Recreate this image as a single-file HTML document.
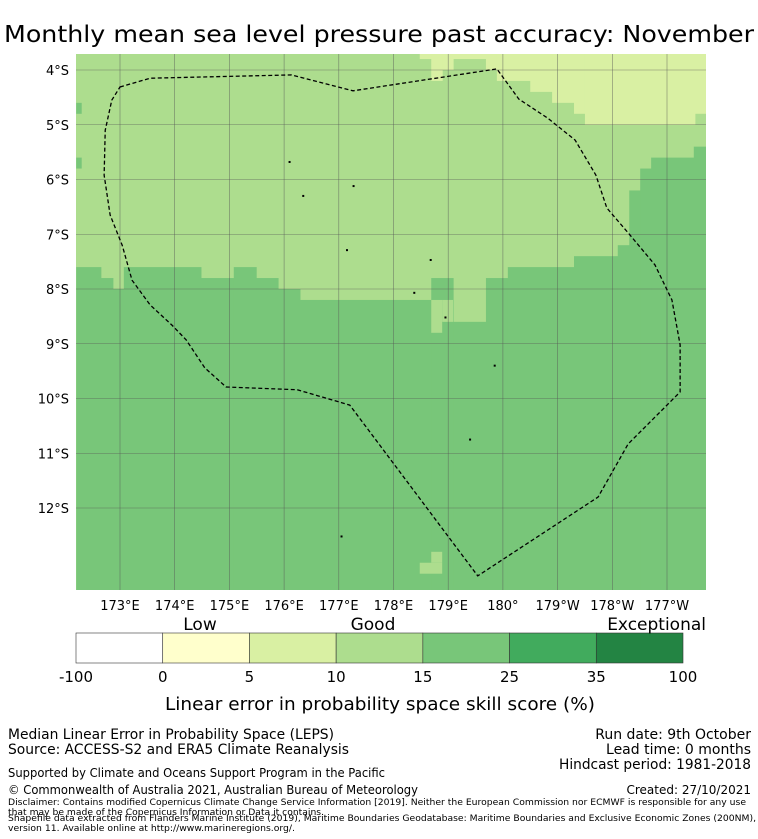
<!DOCTYPE html>
<html><head><meta charset="utf-8"><style>
html,body{margin:0;padding:0;background:#fff;}
svg{display:block;font-family:"DejaVu Sans","Liberation Sans",sans-serif;}
</style></head><body>
<svg id="chart" width="758" height="839" viewBox="0 0 758 839" xmlns="http://www.w3.org/2000/svg">
<text x="379" y="42" text-anchor="middle" font-size="23" textLength="750" lengthAdjust="spacingAndGlyphs">Monthly mean sea level pressure past accuracy: November</text>
<defs><clipPath id="mapclip"><rect x="76" y="54" width="630" height="536"/></clipPath></defs>
<g id="map" clip-path="url(#mapclip)"></g>
<g id="axes"></g>
<g id="cbar"></g>
<text x="380" y="710" text-anchor="middle" font-size="17.5" textLength="430" lengthAdjust="spacingAndGlyphs">Linear error in probability space skill score (%)</text>
<g font-size="14">
<text x="8" y="739" textLength="326" lengthAdjust="spacingAndGlyphs">Median Linear Error in Probability Space (LEPS)</text>
<text x="8" y="754" textLength="341" lengthAdjust="spacingAndGlyphs">Source: ACCESS-S2 and ERA5 Climate Reanalysis</text>
<text x="751" y="739" text-anchor="end">Run date: 9th October</text>
<text x="751" y="754" text-anchor="end">Lead time: 0 months</text>
<text x="751" y="769" text-anchor="end" textLength="192" lengthAdjust="spacingAndGlyphs">Hindcast period: 1981-2018</text>
<text x="8" y="777" font-size="12" textLength="377" lengthAdjust="spacingAndGlyphs">Supported by Climate and Oceans Support Program in the Pacific</text>
<text x="8" y="794" font-size="12" textLength="410" lengthAdjust="spacingAndGlyphs">© Commonwealth of Australia 2021, Australian Bureau of Meteorology</text>
<text x="751" y="794" font-size="12" text-anchor="end">Created: 27/10/2021</text>
<text x="8" y="805" font-size="9" textLength="738" lengthAdjust="spacingAndGlyphs">Disclaimer: Contains modified Copernicus Climate Change Service Information [2019]. Neither the European Commission nor ECMWF is responsible for any use</text>
<text x="8" y="815" font-size="9" textLength="316" lengthAdjust="spacingAndGlyphs">that may be made of the Copernicus Information or Data it contains.</text>
<text x="8" y="821" font-size="9" textLength="748" lengthAdjust="spacingAndGlyphs">Shapefile data extracted from Flanders Marine Institute (2019), Maritime Boundaries Geodatabase: Maritime Boundaries and Exclusive Economic Zones (200NM),</text>
<text x="8" y="831" font-size="9" textLength="287" lengthAdjust="spacingAndGlyphs">version 11. Available online at http://www.marineregions.org/.</text>
</g>
</svg>
<script>
// ---- data ----
const lonTicks = [173,174,175,176,177,178,179,180,181,182,183];
const lonTickLabels = ["173°E","174°E","175°E","176°E","177°E","178°E","179°E","180°","179°W","178°W","177°W"];
const latTicks = [4,5,6,7,8,9,10,11,12];
const latTickLabels = ["4°S","5°S","6°S","7°S","8°S","9°S","10°S","11°S","12°S"];
const mediumEdgesLon = [172.20,172.65,172.87,173.07,174.48,175.08,175.49,175.89,176.29,178.69,179.09,179.69,180.09,181.30,182.10,182.31,182.51,182.71,183.49,183.71];
const mediumTopLat   = [7.6,7.8,8.0,7.6,7.8,7.6,7.8,8.0,8.2,7.8,8.6,7.8,7.6,7.4,7.2,6.2,5.8,5.6,5.4];
const lowEdgesLon = [178.48,178.69,178.89,179.09,179.69,179.89,180.50,180.90,181.30,181.50,183.51,183.71];
const lowBottomLat = [3.8,4.2,4.0,3.8,4.0,4.2,4.4,4.6,4.8,5.0,4.8];
const patches = [[178.69,178.89,8.2,8.8,3],[178.89,179.09,8.2,8.6,3],[178.48,178.89,13.0,13.2,3],[178.69,178.89,12.8,13.0,3],[172.2,172.3,4.6,4.8,4],[172.2,172.3,5.6,5.8,4]];
const eezLon = [173.00,173.55,176.13,177.26,179.89,180.29,180.82,181.32,181.70,181.90,182.32,182.78,183.09,183.24,183.24,182.29,181.74,179.54,177.20,176.24,174.94,174.55,174.21,173.95,173.55,173.22,173.04,172.82,172.71,172.73,172.85];
const eezLat = [4.31,4.15,4.09,4.38,3.98,4.53,4.88,5.28,5.92,6.52,7.01,7.56,8.20,9.02,9.88,10.83,11.80,13.24,10.12,9.84,9.79,9.44,8.93,8.66,8.29,7.84,7.20,6.65,5.92,5.10,4.55];
const islandLon = [176.10,176.35,177.27,177.15,178.68,178.38,178.95,179.85,179.40,177.05];
const islandLat = [5.68,6.30,6.12,7.29,7.47,8.07,8.52,9.40,10.75,12.52];
const classBounds = ["-100","0","5","10","15","25","35","100"];
const classColors = ["#ffffff","#ffffcc","#d9f0a3","#addd8e","#78c679","#41ab5d","#238443"];

// ---- scales ----
const X = lon => 120 + (lon-173)*54.7;
const Y = lat => 70 + (lat-4)*54.75;
const NS="http://www.w3.org/2000/svg";
function mk(tag, attrs, parent){const e=document.createElementNS(NS,tag);for(const k in attrs)e.setAttribute(k,attrs[k]);parent.appendChild(e);return e;}
const map=document.getElementById('map'), axes=document.getElementById('axes'), cbar=document.getElementById('cbar');

let bg=mk('rect',{x:76,y:54,width:630,height:536,fill:classColors[3]},map);


for(let i=0;i<mediumTopLat.length;i++){
  const x0=X(mediumEdgesLon[i]), x1=X(mediumEdgesLon[i+1]), y0=Y(mediumTopLat[i]);
  const r=mk('rect',{x:x0,y:y0,width:x1-x0+0.5,height:600-y0,fill:classColors[4]},map);
  
  
}
for(let i=0;i<lowBottomLat.length;i++){
  const x0=X(lowEdgesLon[i]), x1=X(lowEdgesLon[i+1]), y1=Y(lowBottomLat[i]);
  const r=mk('rect',{x:x0,y:40,width:x1-x0+0.5,height:y1-40,fill:classColors[2]},map);
  
  
}
patches.forEach(p=>{
  const r=mk('rect',{x:X(p[0]),y:Y(p[2]),width:X(p[1])-X(p[0]),height:Y(p[3])-Y(p[2]),fill:classColors[p[4]]},map);
  
  
});
lonTicks.forEach((v,i)=>{
  const l=mk('line',{x1:X(v),x2:X(v),y1:54,y2:590,stroke:'#555',"stroke-width":0.6,"stroke-opacity":0.7},map);
  
  
  const t=mk('text',{x:X(v),y:610,"text-anchor":"middle","font-size":13},axes);
  t.textContent=lonTickLabels[i];
  
  
});
latTicks.forEach((v,i)=>{
  const l=mk('line',{x1:76,x2:706,y1:Y(v),y2:Y(v),stroke:'#555',"stroke-width":0.6,"stroke-opacity":0.7},map);
  
  
  const t=mk('text',{x:69,y:Y(v)+5,"text-anchor":"end","font-size":13},axes);
  t.textContent=latTickLabels[i];
  
  
});
const pts=eezLon.map((v,i)=>X(v)+','+Y(eezLat[i])).join(' ');
const eez=mk('polygon',{points:pts,fill:'none',stroke:'#000',"stroke-width":1.3,"stroke-dasharray":"4,2.5"},map);


islandLon.forEach((v,i)=>{
  const c=mk('rect',{x:X(v)-1,y:Y(islandLat[i])-1,width:2,height:2,fill:'#000'},map);
  
  
});
const cbx0=76, cbx1=683, cby=633, cbh=30, seg=(cbx1-cbx0)/classColors.length;
classColors.forEach((c,i)=>{
  const r=mk('rect',{x:cbx0+i*seg,y:cby,width:seg,height:cbh,fill:c,stroke:'#333',"stroke-width":0.6},cbar);
  
  
});
classBounds.forEach((b,i)=>{
  const t=mk('text',{x:cbx0+i*seg,y:682,"text-anchor":"middle","font-size":15},cbar);
  t.textContent=b;
  
  
});
[["Low",200,"middle"],["Good",373,"middle"],["Exceptional",706,"end"]].forEach(a=>{
  const t=mk('text',{x:a[1],y:630,"text-anchor":a[2],"font-size":17},cbar);
  t.textContent=a[0];
  
  
});
</script>
</body></html>
